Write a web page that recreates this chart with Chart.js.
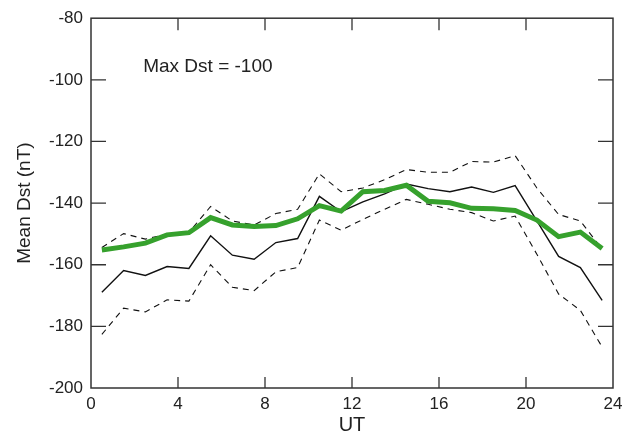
<!DOCTYPE html>
<html>
<head>
<meta charset="utf-8">
<script src="https://cdn.jsdelivr.net/npm/chart.js@4/dist/chart.umd.min.js"></script>
<style>
  html, body { margin: 0; padding: 0; background: #fff; }
  #wrap { width: 635px; height: 437px; }
</style>
</head>
<body>
<div id="wrap"><canvas id="chart"></canvas></div>
<script>
// hourly bins, UT
const ut = [0.5, 1.5, 2.5, 3.5, 4.5, 5.5, 6.5, 7.5, 8.5, 9.5, 10.5, 11.5,
            12.5, 13.5, 14.5, 15.5, 16.5, 17.5, 18.5, 19.5, 20.5, 21.5, 22.5, 23.5];

const meanGreen = [-155.2, -154.2, -153.0, -150.3, -149.6, -144.7, -147.1, -147.6, -147.3, -145.1, -140.8, -142.6,
                   -136.3, -135.9, -134.2, -139.4, -139.9, -141.7, -141.8, -142.4, -145.5, -150.9, -149.4, -154.7];

const meanBlack = [-168.9, -161.9, -163.5, -160.6, -161.2, -150.6, -156.9, -158.2, -152.8, -151.5, -137.8, -142.8,
                   -139.6, -137.0, -133.8, -135.3, -136.3, -134.8, -136.5, -134.3, -145.8, -157.3, -160.9, -171.6];

const upperBound = [-154.4, -149.9, -151.7, -150.0, -149.5, -141.1, -145.8, -147.1, -143.4, -142.0, -130.5, -136.3,
                    -135.1, -132.4, -129.1, -130.0, -130.0, -126.5, -126.7, -124.6, -135.1, -143.7, -145.8, -154.9];

const lowerBound = [-182.6, -174.1, -175.3, -171.4, -171.8, -160.0, -167.3, -168.4, -162.3, -160.9, -145.5, -148.8,
                    -145.3, -142.0, -138.8, -140.4, -142.0, -143.1, -145.8, -144.2, -156.6, -169.5, -174.8, -186.7];

const xTicks = [0, 4, 8, 12, 16, 20, 24];
const yTicks = [-200, -180, -160, -140, -120, -100, -80];
const note = 'Max Dst = -100';

const FONT = '"Liberation Sans", Arial, Helvetica, sans-serif';
const AXIS = '#333';

const pts = arr => arr.map((v, i) => ({ x: ut[i], y: v }));

// box frame with inward ticks on all four sides + the text note
const framePlugin = {
  id: 'frame',
  afterDatasetsDraw(chart) {
    const { ctx, chartArea: a, scales: { x, y } } = chart;
    ctx.save();
    ctx.strokeStyle = AXIS;
    ctx.lineWidth = 1.5;
    ctx.strokeRect(a.left, a.top, a.right - a.left, a.bottom - a.top);
    ctx.lineWidth = 1.3;
    ctx.beginPath();
    xTicks.slice(1, -1).forEach(t => {
      const px = x.getPixelForValue(t);
      ctx.moveTo(px, a.bottom); ctx.lineTo(px, a.bottom - 11);
      ctx.moveTo(px, a.top); ctx.lineTo(px, a.top + 12);
    });
    yTicks.slice(1, -1).forEach(t => {
      const py = y.getPixelForValue(t);
      ctx.moveTo(a.left, py); ctx.lineTo(a.left + 15, py);
      ctx.moveTo(a.right, py); ctx.lineTo(a.right - 15, py);
    });
    ctx.stroke();

    ctx.fillStyle = '#222';
    ctx.font = '19px ' + FONT;
    ctx.textAlign = 'left';
    ctx.textBaseline = 'middle';
    ctx.fillText(note, x.getPixelForValue(2.4), y.getPixelForValue(-95.9));
    ctx.restore();
  }
};

new Chart(document.getElementById('chart'), {
  type: 'line',
  data: {
    datasets: [
      { data: pts(meanGreen), borderColor: '#36a12d', borderWidth: 5, order: 0 },
      { data: pts(meanBlack), borderColor: '#111', borderWidth: 1.4, order: 1 },
      { data: pts(upperBound), borderColor: '#111', borderWidth: 1.1, borderDash: [6, 5], order: 2 },
      { data: pts(lowerBound), borderColor: '#111', borderWidth: 1.1, borderDash: [6, 5], order: 3 }
    ]
  },
  options: {
    responsive: true,
    maintainAspectRatio: false,
    animation: false,
    events: [],
    layout: { padding: { top: 16, right: 22, left: 0, bottom: 0 } },
    elements: {
      point: { radius: 0 },
      line: { tension: 0, fill: false, borderJoinStyle: 'miter' }
    },
    plugins: {
      legend: { display: false },
      tooltip: { enabled: false }
    },
    scales: {
      x: {
        type: 'linear',
        min: 0,
        max: 24,
        afterFit: s => { s.height = 49; },
        afterBuildTicks: s => { s.ticks = xTicks.map(v => ({ value: v })); },
        grid: { display: false, drawTicks: false },
        border: { display: false },
        ticks: { color: '#222', font: { size: 17, family: FONT }, padding: 6, maxRotation: 0 },
        title: { display: true, text: 'UT', color: '#222', font: { size: 20, family: FONT }, padding: { top: 0, bottom: 0 } }
      },
      y: {
        min: -200,
        max: -80,
        afterFit: s => { s.width = 91; },
        afterBuildTicks: s => { s.ticks = yTicks.map(v => ({ value: v })); },
        grid: { display: false, drawTicks: false },
        border: { display: false },
        ticks: { color: '#222', font: { size: 17, family: FONT }, padding: 8 },
        title: { display: true, text: 'Mean Dst (nT)', color: '#222', font: { size: 19, family: FONT }, padding: { top: 13, bottom: 0 } }
      }
    }
  },
  plugins: [framePlugin]
});
</script>
</body>
</html>
